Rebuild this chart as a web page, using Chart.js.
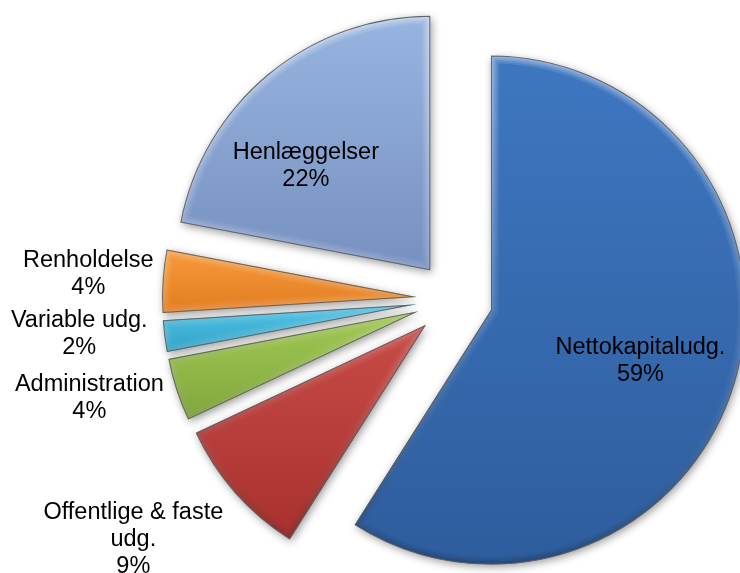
<!DOCTYPE html>
<html>
<head>
<meta charset="utf-8">
<title>Udgiftsfordeling</title>
<script src="https://cdn.jsdelivr.net/npm/chart.js@4.4.1/dist/chart.umd.min.js"></script>
<style>
    html, body { margin: 0; padding: 0; background: #fff; overflow: hidden; }
    #wrap { position: relative; width: 740px; height: 573px; }
</style>
</head>
<body>
<div id="wrap"><canvas id="pieChart"></canvas></div>
<script>
// Values (percent of total), clockwise from 12 o'clock
const categories = ['Nettokapitaludg.', ['Offentlige & faste', 'udg.'], 'Administration', 'Variable udg.', 'Renholdelse', 'Henlæggelser'];
const shares = [59, 9, 4, 2, 4, 22];

// Slice colours, [top, bottom] of each slice's shading
const sliceColors = [
    ['#3E77C1', '#2E5D9D'],
    ['#C84C48', '#A7302D'],
    ['#A2C955', '#80A63B'],
    ['#52C3E7', '#2FA2C7'],
    ['#F79A3D', '#E27C20'],
    ['#97B5E0', '#7790BF']
];

// Where each label sits: r = fraction of radius from the pie centre, da = degrees from slice middle
const labelPlace = [
    { r: 0.767, da: 1.5 },
    { r: 1.572, da: 4.8 },
    { r: 1.484, da: 3.2 },
    { r: 1.480, da: 2.2 },
    { r: 1.443, da: 0.7 },
    { r: 0.791, da: -8.0 }
];

const EXPLODE = 38; // how far every slice is pulled out
const FONT = '23.5px "Liberation Sans", Arial, Helvetica, sans-serif';
const LINE_H = 27;

function pieGeometry(chart) {
    const area = chart.chartArea;
    return {
        cx: (area.left + area.right) / 2,
        cy: (area.top + area.bottom) / 2,
        r: Math.min(area.right - area.left, area.bottom - area.top) / 2
    };
}

// start/end angle of a slice, same convention as the pie (start at top, clockwise)
function sliceAngles(chart, index) {
    const data = chart.data.datasets[0].data;
    const total = data.reduce((a, b) => a + b, 0);
    let start = -Math.PI / 2;
    for (let i = 0; i < index; i++) start += data[i] / total * Math.PI * 2;
    return [start, start + data[index] / total * Math.PI * 2];
}

// Vertical shading inside every slice
function sliceFill(context) {
    const chart = context.chart;
    const i = context.dataIndex;
    if (!chart.chartArea) return sliceColors[i][0];
    const g = pieGeometry(chart);
    const [a0, a1] = sliceAngles(chart, i);
    const mid = (a0 + a1) / 2;
    const vx = g.cx + Math.cos(mid) * EXPLODE;
    const vy = g.cy + Math.sin(mid) * EXPLODE;
    let top = vy, bottom = vy;
    for (let k = 0; k <= 24; k++) {
        const a = a0 + (a1 - a0) * k / 24;
        const y = vy + Math.sin(a) * g.r;
        top = Math.min(top, y);
        bottom = Math.max(bottom, y);
    }
    const grad = chart.ctx.createLinearGradient(0, top, 0, bottom + 1);
    grad.addColorStop(0, sliceColors[i][0]);
    grad.addColorStop(1, sliceColors[i][1]);
    return grad;
}

const explodePlugin = {
    id: 'explodeSlices',
    beforeDatasetDraw(chart, args) {
        const g = pieGeometry(chart);
        args.meta.data.forEach(arc => {
            const mid = (arc.startAngle + arc.endAngle) / 2;
            arc.x = g.cx + Math.cos(mid) * EXPLODE;
            arc.y = g.cy + Math.sin(mid) * EXPLODE;
        });
        const ctx = chart.ctx;
        ctx.save();
        ctx.shadowColor = 'rgba(0, 0, 0, 0.4)';
        ctx.shadowBlur = 8;
        ctx.shadowOffsetX = 1.5;
        ctx.shadowOffsetY = 2.5;
    },
    afterDatasetDraw(chart, args) {
        const ctx = chart.ctx;
        ctx.restore();
        // soft bevel along the slice edges, light coming from above
        args.meta.data.forEach(arc => {
            const r = arc.outerRadius;
            ctx.save();
            ctx.beginPath();
            ctx.moveTo(arc.x, arc.y);
            ctx.arc(arc.x, arc.y, r, arc.startAngle, arc.endAngle);
            ctx.closePath();
            ctx.clip();
            const shade = ctx.createLinearGradient(0, arc.y - r, 0, arc.y + r);
            shade.addColorStop(0, 'rgba(255,255,255,0.11)');
            shade.addColorStop(0.5, 'rgba(255,255,255,0.04)');
            shade.addColorStop(1, 'rgba(0,0,0,0.05)');
            ctx.strokeStyle = shade;
            ctx.lineJoin = 'round';
            [16, 12, 9, 6, 4].forEach(w => {
                ctx.lineWidth = w;
                ctx.stroke();
            });
            ctx.lineWidth = 2;
            ctx.strokeStyle = 'rgba(95,95,95,0.95)';
            ctx.stroke();
            ctx.restore();
        });
    },
    afterDatasetsDraw(chart) {
        const ctx = chart.ctx;
        const g = pieGeometry(chart);
        const meta = chart.getDatasetMeta(0);
        const data = chart.data.datasets[0].data;
        const total = data.reduce((a, b) => a + b, 0);
        ctx.save();
        ctx.font = FONT;
        ctx.fillStyle = '#000';
        ctx.textAlign = 'center';
        ctx.textBaseline = 'alphabetic';
        meta.data.forEach((arc, i) => {
            const place = labelPlace[i];
            const ang = (arc.startAngle + arc.endAngle) / 2 + place.da * Math.PI / 180;
            const px = g.cx + Math.cos(ang) * g.r * place.r;
            const py = g.cy + Math.sin(ang) * g.r * place.r;
            const name = chart.data.labels[i];
            const lines = (Array.isArray(name) ? name.slice() : [name]);
            lines.push(Math.round(data[i] / total * 100) + '%');
            const first = py + 8.4 - (lines.length - 1) * LINE_H / 2;
            lines.forEach((txt, k) => ctx.fillText(txt, px, first + k * LINE_H));
        });
        ctx.restore();
    }
};

const ctxChart = document.getElementById('pieChart');
const myChart = new Chart(ctxChart, {
    type: 'pie',
    data: {
        labels: categories,
        datasets: [{
            data: shares,
            backgroundColor: sliceFill,
            borderColor: '#6a6a6a',
            borderWidth: 0,
            borderAlign: 'inner',
            hoverOffset: 0,
            offset: 0,
            clip: false
        }]
    },
    plugins: [explodePlugin],
    options: {
        responsive: true,
        maintainAspectRatio: false,
        animation: false,
        events: [],
        layout: {
            padding: { top: 45, bottom: 19, left: 169, right: 0 }
        },
        plugins: {
            legend: { display: false },
            tooltip: { enabled: false }
        }
    }
});
</script>
</body>
</html>
